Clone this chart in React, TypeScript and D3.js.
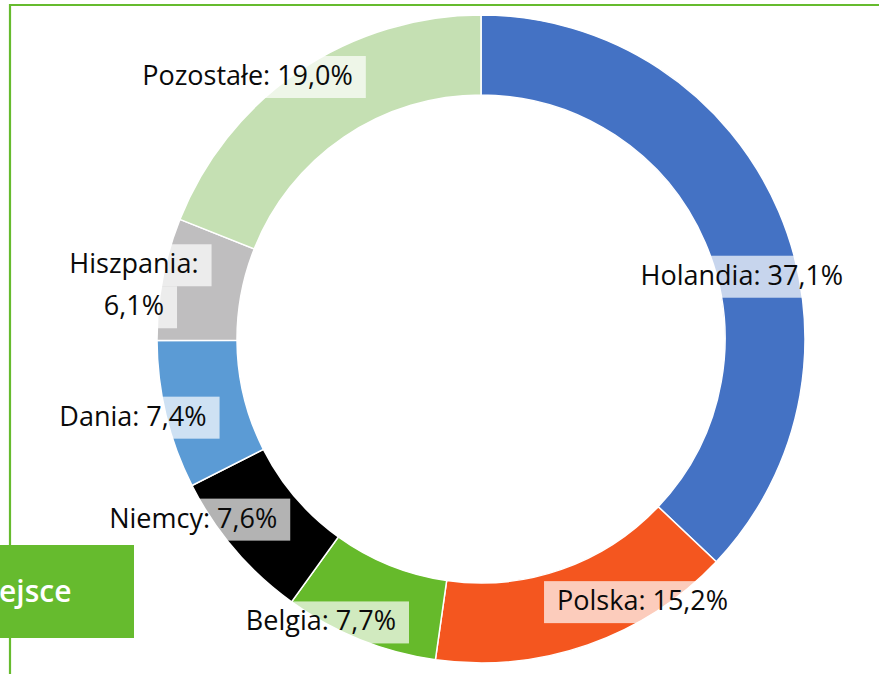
import React, { useEffect, useRef } from 'react';
import * as d3 from 'd3';

// shares of export by destination (%)
const countries = ['Holandia', 'Polska', 'Belgia', 'Niemcy', 'Dania', 'Hiszpania', 'Pozostałe'];
const shares = [37.1, 15.2, 7.7, 7.6, 7.4, 6.1, 19.0];
const sliceColors = ['#4472C4', '#F4561F', '#66BA2B', '#000000', '#5B9BD5', '#BFBEBF', '#C5E0B3'];
// labels that break onto two lines
const twoLine = ['Hiszpania'];
// label nudges from slice centroid [dx, dy of first baseline]
const labelShift = [
  [0, 58],
  [68, 3],
  [-54, 28],
  [-72, 4],
  [-72, 20],
  [-68, -13],
  [-74, -19],
];
const boxText = 'ejsce';

const W = 879;
const H = 674;
const GREEN = '#66BB2E';

const App = () => {
  const svgRef = useRef<SVGSVGElement>(null);

  useEffect(() => {
    document.body.style.margin = '0';
    const svg = d3.select(svgRef.current);
    svg.selectAll('*').remove();

    const cx = 481;
    const cy = 339;
    const outerR = 324;
    const innerR = 244;

    // frame lines
    svg.append('line').attr('x1', 10).attr('x2', 10).attr('y1', 4).attr('y2', H)
      .attr('stroke', GREEN).attr('stroke-width', 2.2);
    svg.append('line').attr('x1', 9).attr('x2', W).attr('y1', 5).attr('y2', 5)
      .attr('stroke', GREEN).attr('stroke-width', 2.2);

    const pie = d3.pie<number>().sort(null).value(d => d);
    const arcs = pie(shares);
    const arc = d3.arc<d3.PieArcDatum<number>>().innerRadius(innerR).outerRadius(outerR);

    const g = svg.append('g').attr('transform', `translate(${cx},${cy})`);
    g.selectAll('path.slice')
      .data(arcs)
      .enter()
      .append('path')
      .attr('class', 'slice')
      .attr('d', arc)
      .attr('fill', (d, i) => sliceColors[i])
      .attr('stroke', '#fff')
      .attr('stroke-width', 1.5);

    const fmt = (v: number) => v.toFixed(1).replace('.', ',') + '%';
    const fontSize = 27;
    const lineGap = 42;

    const labels = svg.append('g');
    arcs.forEach((a, i) => {
      const name = countries[i];
      const lines = twoLine.includes(name)
        ? [`${name}:`, fmt(shares[i])]
        : [`${name}: ${fmt(shares[i])}`];
      const [px, py] = arc.centroid(a);
      const x = cx + px + labelShift[i][0];
      const y0 = cy + py + labelShift[i][1];
      lines.forEach((ln, j) => {
        const base = y0 + j * lineGap;
        const rect = labels.append('rect');
        const t = labels.append('text')
          .attr('x', x)
          .attr('y', base)
          .attr('text-anchor', 'middle')
          .attr('font-family', '"Open Sans", "Noto Sans", sans-serif')
          .attr('font-size', fontSize)
          .attr('fill', '#0a0a0a')
          .text(ln);
        const w = (t.node() as SVGTextElement).getComputedTextLength();
        rect.attr('x', x - w / 2 - 13)
          .attr('y', base - 29)
          .attr('width', w + 26)
          .attr('height', 42)
          .attr('fill', '#fff')
          .attr('fill-opacity', 0.7);
      });
    });

    // green tag at bottom left
    svg.append('rect').attr('x', 0).attr('y', 545).attr('width', 134).attr('height', 93)
      .attr('fill', GREEN);
    svg.append('text')
      .attr('x', -1)
      .attr('y', 602)
      .attr('font-family', '"Open Sans", "Noto Sans", sans-serif')
      .attr('font-weight', 600)
      .attr('font-size', 30)
      .attr('fill', '#fff')
      .text(boxText);
  }, []);

  return <svg ref={svgRef} width={W} height={H} style={{ display: 'block', background: '#fff' }} />;
};

export default App;
